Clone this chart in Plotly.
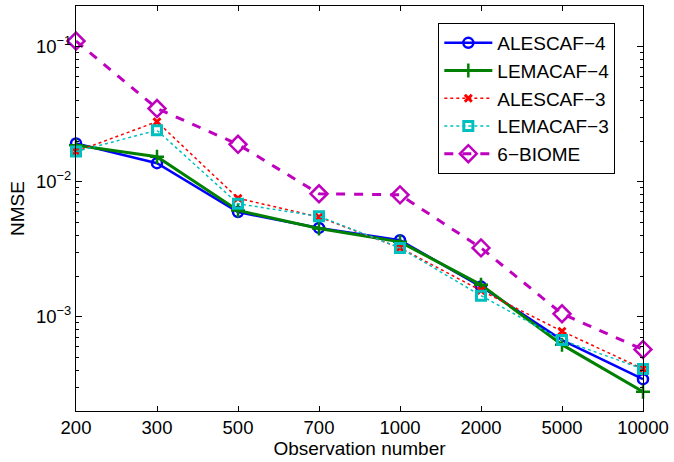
import plotly.graph_objects as go

categories = ["200", "300", "500", "700", "1000", "2000", "5000", "10000"]
alescaf4 = [0.0192, 0.0137, 0.00595, 0.00454, 0.00368, 0.00167, 0.00067, 0.000344]
lemacaf4 = [0.0186, 0.0153, 0.00612, 0.00449, 0.00358, 0.00172, 0.00062, 0.000278]
alescaf3 = [0.0167, 0.0278, 0.00753, 0.00547, 0.00323, 0.00156, 0.00078, 0.00041]
lemacaf3 = [0.0167, 0.0240, 0.00686, 0.00553, 0.00323, 0.00143, 0.00067, 0.00041]
biome6 = [0.110, 0.0348, 0.0189, 0.00813, 0.00798, 0.00323, 0.00105, 0.000571]

series = [
    ("ALESCAF−4", alescaf4, dict(color="#0000ff", width=2.5, dash="solid"),
     dict(symbol="circle-open", size=10, line=dict(width=2.5, color="#0000ff"))),
    ("LEMACAF−4", lemacaf4, dict(color="#008000", width=3, dash="solid"),
     dict(symbol="cross-thin-open", size=10, line=dict(width=2.5, color="#008000"))),
    ("ALESCAF−3", alescaf3, dict(color="#ff0000", width=1.5, dash="dot"),
     dict(symbol="x-thin-open", size=7, line=dict(width=3, color="#ff0000"))),
    ("LEMACAF−3", lemacaf3, dict(color="#00bfbf", width=1.5, dash="dot"),
     dict(symbol="square-open", size=9, line=dict(width=3, color="#00bfbf"))),
    ("6−BIOME", biome6, dict(color="#bf00bf", width=3, dash="dash"),
     dict(symbol="diamond-open", size=13, line=dict(width=2.5, color="#bf00bf"))),
]

fig = go.Figure()
for name, vals, ln, mk in series:
    fig.add_trace(go.Scatter(x=categories, y=vals, name=name, mode="lines+markers",
                             line=ln, marker=mk, cliponaxis=False))

minor_vals = []
for e in [1e-4, 1e-3, 1e-2, 1e-1]:
    for k in range(2, 10):
        v = k * e
        if 2e-4 <= v <= 2e-1:
            minor_vals.append(v)

font_family = "Liberation Sans, Arial, sans-serif"
fig.update_layout(
    width=674, height=462,
    margin=dict(l=76, r=25, t=5, b=51),
    paper_bgcolor="white", plot_bgcolor="white",
    font=dict(family=font_family, size=18, color="black"),
    showlegend=True,
    legend=dict(x=0.639, y=0.958, xanchor="left", yanchor="top",
                bordercolor="black", borderwidth=1, bgcolor="white",
                font=dict(size=19), tracegroupgap=0, itemwidth=48),
    xaxis=dict(type="category", range=[0, 7], showgrid=False, zeroline=False,
               showline=True, linecolor="black", linewidth=1, mirror="ticks",
               ticks="inside", ticklen=5, tickcolor="black",
               tickfont=dict(size=18.5),
               title=dict(text="Observation number", standoff=4, font=dict(size=19))),
    yaxis=dict(type="log", range=[-3.699, -0.699], showgrid=False, zeroline=False,
               showline=True, linecolor="black", linewidth=1, mirror="ticks",
               ticks="inside", ticklen=6, tickcolor="black",
               tickfont=dict(size=18.5),
               tickmode="array", tickvals=[1e-3, 1e-2, 1e-1],
               ticktext=["10<sup>−3</sup>", "10<sup>−2</sup>", "10<sup>−1</sup>"],
               minor=dict(tickmode="array", tickvals=minor_vals, ticks="inside",
                          ticklen=3, tickcolor="black"),
               title=dict(text="NMSE", standoff=6, font=dict(size=19))),
)

fig.write_html("out.html")
